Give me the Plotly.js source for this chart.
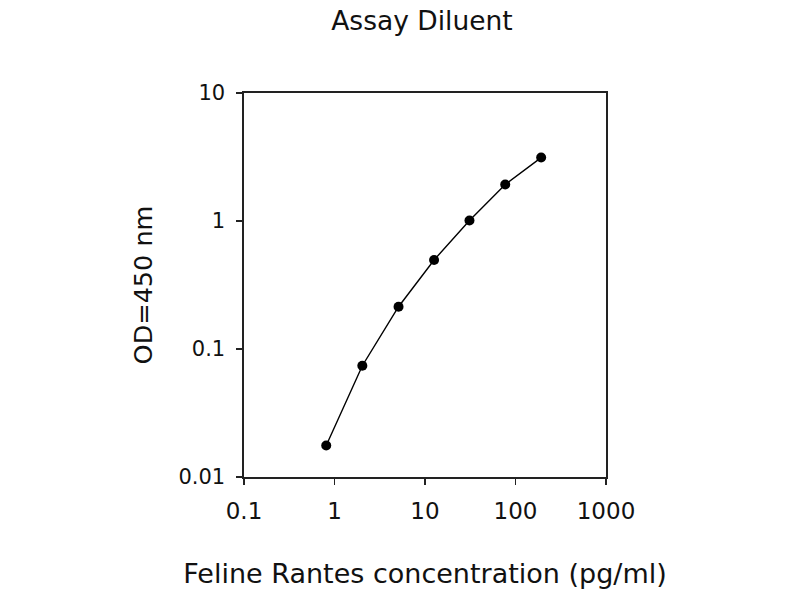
<!DOCTYPE html>
<html>
<head>
<meta charset="utf-8">
<script src="https://cdn.plot.ly/plotly-3.0.1.min.js"></script>
<style>html,body{margin:0;padding:0;background:#fff;}#chart{width:800px;height:600px;}</style>
</head>
<body>
<div id="chart"></div>
<script>
const concentration = [0.81, 2.03, 5.1, 12.6, 31, 77, 192];
const od450 = [0.0176, 0.074, 0.214, 0.496, 1.01, 1.93, 3.13];
const xTickVals = [0.1, 1, 10, 100, 1000];
const xTickText = ['0.1', '1', '10', '100', '1000'];
const yTickVals = [0.01, 0.1, 1, 10];
const yTickText = ['0.01', '0.1', '1', '10'];

const font = 'DejaVu Sans, sans-serif';
const trace = {
  x: concentration,
  y: od450,
  type: 'scatter',
  mode: 'lines+markers',
  line: {color: '#000', width: 1.4},
  marker: {color: '#000', size: 10},
  showlegend: false
};
const layout = {
  width: 800, height: 600,
  paper_bgcolor: '#fff', plot_bgcolor: '#fff',
  margin: {l: 244, r: 194, t: 93, b: 123},
  title: {text: 'Assay Diluent', font: {family: font, size: 26.5, color: '#111'},
          x: 0.5275, xref: 'container', xanchor: 'center', y: 0.965, yref: 'container', yanchor: 'middle'},
  xaxis: {
    type: 'log', range: [-1, 3],
    tickvals: xTickVals, ticktext: xTickText,
    ticks: 'outside', ticklen: 6, tickwidth: 1.5, tickcolor: '#222',
    showline: true, linecolor: '#222', linewidth: 1.6, mirror: true,
    showgrid: false, zeroline: false,
    tickfont: {family: font, size: 23, color: '#111'},
    ticklabelstandoff: 7,
    title: {text: 'Feline Rantes concentration (pg/ml)', font: {family: font, size: 27, color: '#111'}, standoff: 41}
  },
  yaxis: {
    type: 'log', range: [-2, 1],
    tickvals: yTickVals, ticktext: yTickText,
    ticks: 'outside', ticklen: 6, tickwidth: 1.5, tickcolor: '#222',
    showline: true, linecolor: '#222', linewidth: 1.6, mirror: true,
    showgrid: false, zeroline: false,
    tickfont: {family: font, size: 21, color: '#111'},
    ticklabelstandoff: 7,
    title: {text: 'OD=450 nm', font: {family: font, size: 25.5, color: '#111'}, standoff: 18}
  }
};
Plotly.newPlot('chart', [trace], layout, {displayModeBar: false, staticPlot: true});
</script>
</body>
</html>
